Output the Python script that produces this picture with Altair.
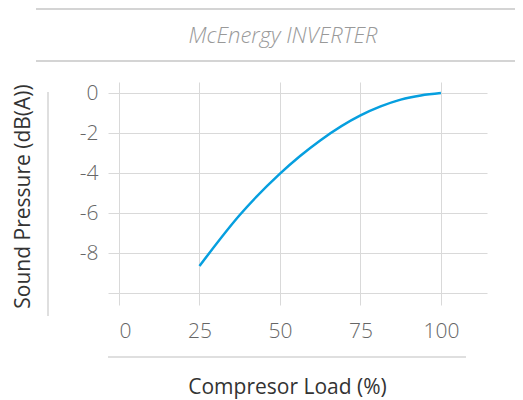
import altair as alt
import pandas as pd

load = [25, 37.5, 50, 56.25, 62.5, 75, 81.25, 87.5, 93.75, 100]
sound = [-8.65, -6.1, -4.03, -3.15, -2.37, -1.12, -0.67, -0.33, -0.12, 0.0]

x_ticks = [0, 25, 50, 75, 100]
y_ticks = [0, -2, -4, -6, -8, -10]

title_text = "McEnergy INVERTER"
x_title = "Compresor Load (%)"
y_title = "Sound Pressure (dB(A))"

df = pd.DataFrame({"load": load, "sound": sound})

FONT = "Open Sans"
GRID = "#d9d9d9"

line = alt.Chart(df).mark_line(
    color="#069fdf", strokeWidth=2.5, interpolate="monotone", clip=False
).encode(
    x=alt.X("load:Q", scale=alt.Scale(domain=[0, 114.3], nice=False, zero=False),
            axis=alt.Axis(values=x_ticks, title=x_title, grid=True, gridColor=GRID,
                          domain=False, ticks=True, tickColor=GRID, tickSize=12,
                          labelFont=FONT, labelFontSize=21, labelColor="#666666",
                          labelFontWeight=300, labelPadding=15,
                          titleFont=FONT, titleFontSize=21, titleColor="#333333",
                          titleFontWeight=400, titleX=168, titleY=100,
                          titleBaseline="alphabetic", titleAlign="center")),
    y=alt.Y("sound:Q", scale=alt.Scale(domain=[-10, 0.55], nice=False, zero=False),
            axis=alt.Axis(values=y_ticks, title=y_title, grid=True, gridColor=GRID,
                          domain=False, ticks=True, tickColor=GRID, tickSize=11,
                          labelExpr="datum.value == -10 ? '' : replace(datum.label, '\u2212', '-')",
                          labelFont=FONT, labelFontSize=21, labelColor="#666666",
                          labelFontWeight=300, labelPadding=10,
                          titleFont=FONT, titleFontSize=21, titleColor="#333333",
                          titleFontWeight=400, titleX=-90, titleY=114,
                          titleAngle=270, titleBaseline="alphabetic", titleAlign="center")),
)

def rule(x1, x2, y1, y2, width=2):
    return alt.Chart(alt.Data(values=[{}])).mark_rule(
        color="#d4d4d4", strokeWidth=width, clip=False
    ).encode(x=alt.value(x1), x2=alt.value(x2), y=alt.value(y1), y2=alt.value(y2))

top_line = rule(-83, 396, -73, -73)
mid_line = rule(-83, 396, -21, -21)
yaxis_line = rule(-71, -71, 10, 234, 1.5)
xaxis_line = rule(-11, 347, 275, 275, 1.5)

title = alt.Chart(alt.Data(values=[{}])).mark_text(
    text=title_text, font=FONT, fontSize=22, fontStyle="italic", fontWeight=300,
    color="#999999", baseline="alphabetic", align="center"
).encode(x=alt.value(164), y=alt.value(-39))

chart = alt.layer(top_line, mid_line, yaxis_line, xaxis_line, title, line).properties(
    width=368, height=211,
    autosize=alt.AutoSizeParams(type="none"),
    padding={"left": 111, "top": 74, "right": 28, "bottom": 106},
).configure_view(stroke=None)

chart.save("out.html", embed_options={"renderer": "svg", "actions": False})
